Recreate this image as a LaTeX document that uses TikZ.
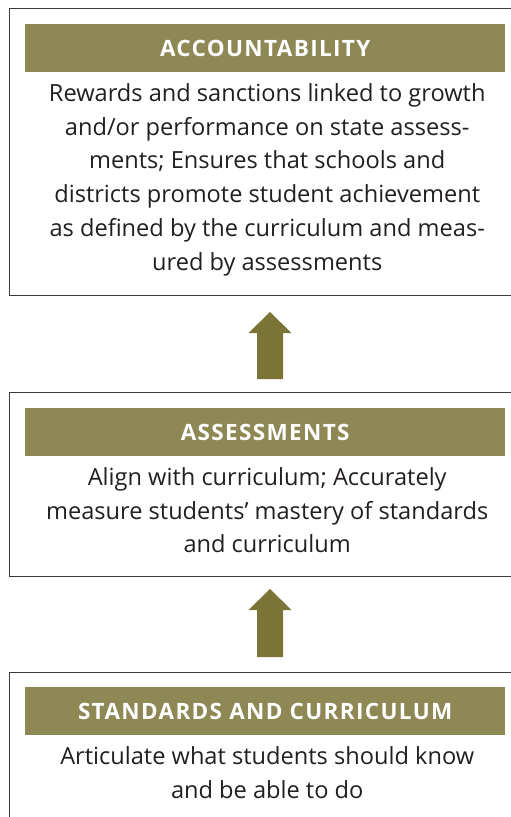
\documentclass[tikz,border=0pt]{standalone}
\usepackage{fontspec}
\setmainfont{Open Sans}
\usetikzlibrary{positioning, calc}
\definecolor{Olive}{HTML}{8E8855}
\definecolor{OliveDark}{HTML}{7A7437}
\definecolor{Frame}{HTML}{3A3A3A}
\definecolor{Ink}{HTML}{231F20}

\begin{document}
\begin{tikzpicture}[
  x=1pt, y=-1pt,
  box/.style={draw=Frame, line width=1pt, anchor=north west, minimum width=530pt, inner sep=0pt},
  band/.style={fill=Olive, anchor=north west, minimum width=480pt, minimum height=48pt, inner sep=0pt,
    text=white, font=\bfseries\fontsize{22.5}{25}\selectfont\addfontfeature{LetterSpace=6}},
  body/.style={text=Ink, align=center, inner sep=0pt, font=\fontsize{23.6}{33.7}\selectfont},
  uparrow/.style={fill=OliveDark}
]
\useasboundingbox (0,0) rectangle (511,817);
\coordinate (axis) at (270,0);

% the three stages, right edges run off the page
\node[box, minimum height=287pt] (acct) at (9,8) {};
\node[box, minimum height=184pt] (assess) at (9,392) {};
\node[box, minimum height=160pt] (stds) at (9,672) {};

\node[band] (acct-band) at (25,24) {ACCOUNTABILITY};
\node[band] (assess-band) at (25,408) {ASSESSMENTS};
\node[band] (stds-band) at (25,687) {STANDARDS AND CURRICULUM};

\node[body, below=11pt of acct-band, xshift=2pt] (acct-text) {Rewards and sanctions linked to growth\\
  and/or performance on state assess-\\
  ments; Ensures that schools and\\
  districts promote student achievement\\
  as defined by the curriculum and meas-\\
  ured by assessments};
\node[body, below=11pt of assess-band, xshift=2pt] (assess-text) {Align with curriculum; Accurately\\
  measure students' mastery of standards\\
  and curriculum};
\node[body, below=11pt of stds-band, xshift=2pt] (stds-text) {Articulate what students should know\\
  and be able to do};

% block arrows between the stages
\fill[uparrow] ($(acct.south -| axis)+(0,16)$) -- ++(21.5,21) -- ++(-8.5,0) -- ++(0,46)
  -- ++(-26,0) -- ++(0,-46) -- ++(-8.5,0) -- cycle;
\fill[uparrow] ($(assess.south -| axis)+(0,12)$) -- ++(21.5,21) -- ++(-8.5,0) -- ++(0,47)
  -- ++(-26,0) -- ++(0,-47) -- ++(-8.5,0) -- cycle;
\end{tikzpicture}
\end{document}
